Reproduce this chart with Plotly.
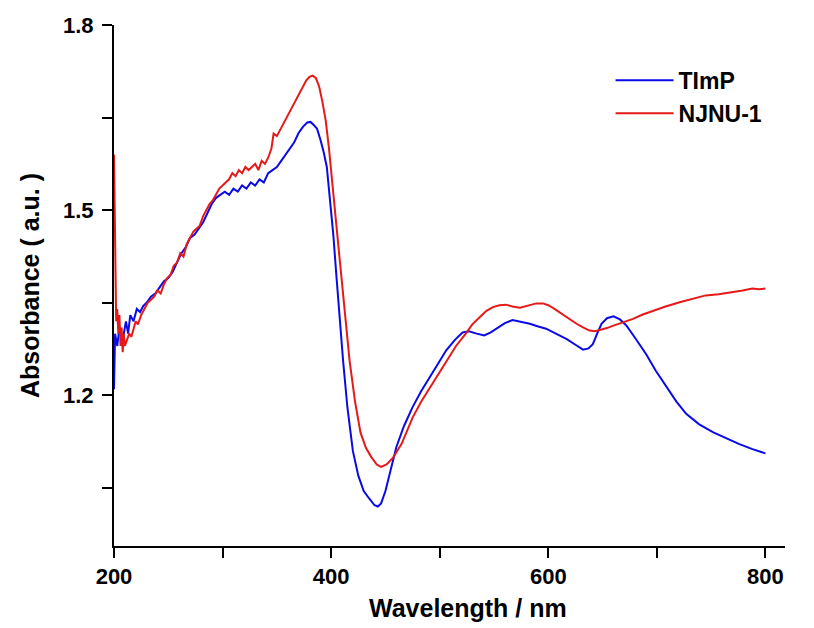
import plotly.graph_objects as go

# TImP (blue)
timp_wl = [200, 201, 203, 205, 207, 209, 211, 213, 215, 218, 221, 224, 227, 230, 234, 238, 242, 246, 250,
           254, 258, 262, 266, 270, 274, 278, 282, 286, 290, 294, 298, 302, 306, 310, 314, 318, 322, 326,
           330, 334, 338, 342, 346, 350, 354, 358, 362, 366, 370, 374, 378, 381, 384, 387, 390, 393, 396,
           399, 402, 405, 408, 411, 415, 420, 425, 430, 435, 440, 443, 446, 450, 455, 460, 467, 475, 483,
           491, 499, 506, 514, 521, 527, 534, 541, 547, 552, 560, 567, 575, 583, 590, 598, 607, 617, 625,
           632, 637, 641, 645, 649, 654, 660, 666, 672, 680, 690, 699, 709, 718, 727, 739, 752, 764, 776,
           788, 800]
timp_abs = [1.21, 1.30, 1.28, 1.31, 1.29, 1.30, 1.32, 1.30, 1.33, 1.32, 1.34, 1.335, 1.345, 1.35, 1.36,
            1.365, 1.375, 1.385, 1.39, 1.40, 1.415, 1.43, 1.44, 1.455, 1.46, 1.47, 1.48, 1.495, 1.51, 1.52,
            1.525, 1.53, 1.525, 1.535, 1.53, 1.54, 1.535, 1.545, 1.54, 1.55, 1.545, 1.56, 1.565, 1.57, 1.58,
            1.59, 1.60, 1.61, 1.625, 1.635, 1.642, 1.643, 1.638, 1.632, 1.615, 1.595, 1.57, 1.52, 1.46, 1.39,
            1.32, 1.256, 1.18, 1.11, 1.07, 1.045, 1.033, 1.022, 1.020, 1.025, 1.045, 1.08, 1.116, 1.15, 1.181,
            1.207, 1.229, 1.253, 1.273, 1.29, 1.302, 1.304, 1.30, 1.297, 1.302, 1.308, 1.317, 1.322, 1.319,
            1.316, 1.312, 1.308, 1.30, 1.291, 1.282, 1.274, 1.276, 1.283, 1.30, 1.316, 1.325, 1.328, 1.323,
            1.313, 1.293, 1.267, 1.24, 1.213, 1.19, 1.170, 1.153, 1.140, 1.130, 1.121, 1.113, 1.106]

# NJNU-1 (red)
njnu_wl = [200, 201, 202, 203, 204, 205, 206, 207, 208, 209, 210, 212, 214, 216, 218, 220, 222, 225, 228,
           231, 234, 237, 240, 243, 246, 249, 252, 255, 258, 261, 264, 267, 270, 273, 276, 279, 282, 285,
           288, 291, 294, 297, 300, 303, 306, 309, 312, 315, 318, 321, 324, 327, 330, 333, 336, 339, 342,
           345, 347, 350, 353, 356, 359, 362, 365, 368, 371, 374, 377, 380, 383, 386, 389, 392, 395, 398,
           401, 405, 409, 413, 417, 422, 427, 432, 437, 442, 446, 451, 457, 465, 475, 483, 491, 499, 506,
           515, 524, 530, 537, 543, 549, 555, 561, 567, 574, 581, 589, 595, 600, 605, 610, 618, 626, 632,
           638, 643, 648, 654, 660, 669, 678, 687, 696, 708, 721, 733, 745, 757, 770, 779, 788, 794, 800]
njnu_abs = [1.59, 1.40, 1.32, 1.34, 1.30, 1.33, 1.28, 1.31, 1.27, 1.30, 1.28, 1.29, 1.30, 1.295, 1.31,
            1.32, 1.315, 1.33, 1.34, 1.35, 1.355, 1.36, 1.37, 1.365, 1.38, 1.39, 1.395, 1.41, 1.415, 1.43,
            1.425, 1.445, 1.455, 1.465, 1.47, 1.475, 1.49, 1.50, 1.51, 1.516, 1.525, 1.535, 1.54, 1.545,
            1.55, 1.56, 1.555, 1.565, 1.56, 1.57, 1.565, 1.57, 1.575, 1.565, 1.58, 1.575, 1.585, 1.60, 1.624,
            1.62, 1.63, 1.64, 1.65, 1.66, 1.67, 1.68, 1.689, 1.70, 1.71, 1.716, 1.718, 1.714, 1.70, 1.675,
            1.645, 1.60, 1.54, 1.472, 1.40, 1.33, 1.256, 1.19, 1.14, 1.115, 1.10, 1.088, 1.084, 1.088, 1.099,
            1.122, 1.164, 1.19, 1.213, 1.236, 1.256, 1.28, 1.30, 1.315, 1.327, 1.337, 1.343, 1.346, 1.347,
            1.344, 1.342, 1.345, 1.349, 1.349, 1.346, 1.341, 1.335, 1.325, 1.316, 1.31, 1.305, 1.304, 1.306,
            1.309, 1.313, 1.318, 1.324, 1.331, 1.337, 1.344, 1.351, 1.357, 1.362, 1.364, 1.367, 1.370, 1.373,
            1.372, 1.373]

font = "Arial, Liberation Sans, sans-serif"

fig = go.Figure()
fig.add_trace(go.Scatter(x=timp_wl, y=timp_abs, mode="lines", name="TImP",
                         line=dict(color="rgb(10,10,230)", width=2)))
fig.add_trace(go.Scatter(x=njnu_wl, y=njnu_abs, mode="lines", name="NJNU-1",
                         line=dict(color="rgb(230,25,25)", width=2)))

axis_common = dict(showline=True, linecolor="black", linewidth=2, ticks="outside", ticklen=10,
                   tickwidth=2, tickcolor="black", showgrid=False, zeroline=False, mirror=False,
                   automargin=False,
                   tickfont=dict(family=font, size=22, color="black", weight="bold"))

fig.update_xaxes(range=[200, 818], tick0=200, dtick=200,
                 minor=dict(dtick=100, ticks="outside", ticklen=10, tickwidth=2, tickcolor="black"),
                 **axis_common)
fig.update_yaxes(range=[0.956, 1.8], tick0=1.2, dtick=0.3, tickformat=".1f", ticklabelstandoff=4,
                 minor=dict(dtick=0.15, ticks="outside", ticklen=10, tickwidth=2, tickcolor="black"),
                 title=dict(text="<b>Absorbance ( a.u. )</b>", font=dict(family=font, size=25, color="black"),
                            standoff=16),
                 **axis_common)

# x title sits a little right of the axis centre in the original
fig.add_annotation(text="<b>Wavelength / nm</b>", xref="paper", yref="paper", x=0.527, y=0,
                   xanchor="center", yanchor="middle", yshift=-62, showarrow=False,
                   font=dict(family=font, size=25, color="black"))

# page body adds an 8px margin, so the figure is 8px smaller on each side
fig.update_layout(width=806, height=620, plot_bgcolor="white", paper_bgcolor="white",
                  margin=dict(l=106, r=29, t=17, b=82),
                  legend=dict(x=0.74, y=0.935, xanchor="left", yanchor="top", itemwidth=58,
                              font=dict(family=font, size=23, color="black", weight="bold"),
                              bgcolor="rgba(0,0,0,0)", tracegroupgap=0))

fig.write_html("out.html")
